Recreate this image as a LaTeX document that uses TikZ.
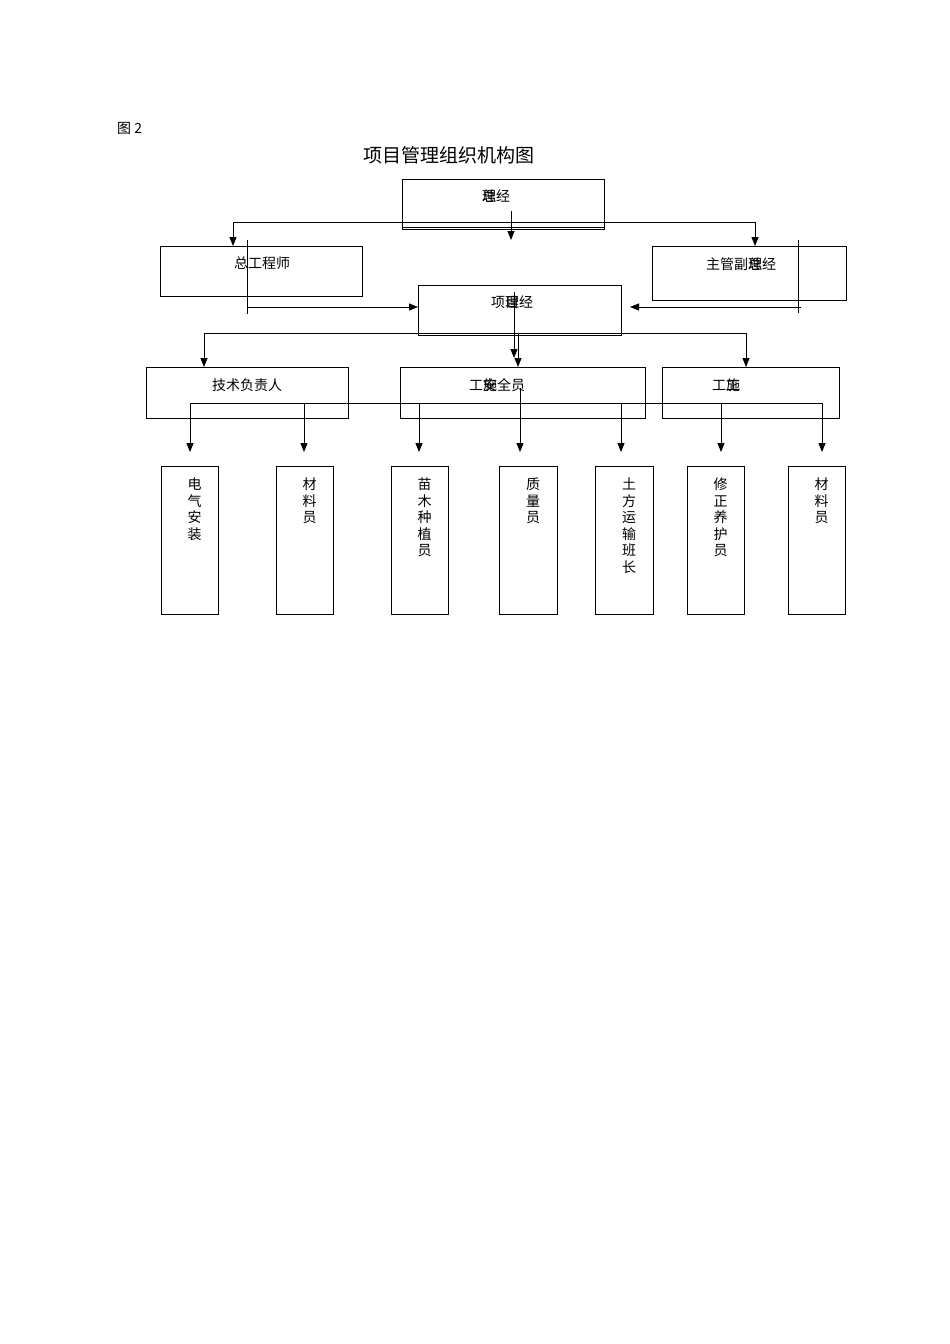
\documentclass[tikz,border=0pt]{standalone}
\usepackage{fontspec}
\setmainfont{Noto Sans CJK SC}
\usetikzlibrary{arrows.meta}
\newcommand{\ovl}[2]{\makebox[1em]{\makebox[0pt]{#1}\makebox[0pt]{#2}}}
\begin{document}
\begin{tikzpicture}[x=1pt,y=-1pt,
  bx/.style={draw,line width=0.8pt},
  ln/.style={line width=0.8pt},
  ar/.style={line width=0.8pt,-{Triangle[length=9pt,width=7pt]}},
  lbl/.style={font=\fontsize{14}{16}\selectfont,inner sep=0pt},
  vt/.style={font=\fontsize{14}{16.5}\selectfont,inner sep=0pt,anchor=north,align=center}]
\useasboundingbox (0,0) rectangle (950,1344);
\node[lbl,anchor=west] (fig) at (117,128) {图 2};
\node[font=\fontsize{19}{22}\selectfont,inner sep=0pt] (title) at (449,155) {项目管理组织机构图};
% boxes
\draw[bx] (402,179) rectangle (604,229) coordinate (zjlc);
\draw[ln] (402,227) -- (604,227);
\node[lbl] (zjl) at (496,196) {\ovl{总}{理}经};
\draw[bx] (160,246) rectangle (362,296);
\node[lbl] (zgcs) at (262,263) {总工程师};
\draw[bx] (652,246) rectangle (846,300);
\node[lbl] (fzjl) at (741,264) {主管副\ovl{总}{理}经};
\draw[bx] (418,285) rectangle (621,335);
\node[lbl] (xmjl) at (512,302) {项\ovl{目}{理}经};
\draw[bx] (146,367) rectangle (348,418);
\node[lbl] (jsfz) at (247,385) {技术负责人};
\draw[bx] (400,367) rectangle (645,418);
\node[lbl] (aqy) at (497,385) {工\ovl{施}{安}全员};
\draw[bx] (662,367) rectangle (839,418);
\node[lbl] (sgy) at (726,385) {工\ovl{施}{工}};
% bottom boxes
\foreach \xa/\xb/\t/\n in {161/218/电\\气\\安\\装/b1, 276/333/材\\料\\员/b2, 391/448/苗\\木\\种\\植\\员/b3, 499/557/质\\量\\员/b4, 595/653/土\\方\\运\\输\\班\\长/b5, 687/744/修\\正\\养\\护\\员/b6, 788/845/材\\料\\员/b7}{
  \draw[bx] (\xa,466) rectangle (\xb,614);
  \node[vt] (\n) at ({(\xa+\xb)/2+5},478) {\t};
}
% connectors level 1
\coordinate (t1) at (233,222); \coordinate (t2) at (755,222);
\draw[ln] (t1) -- (t2);
\draw[ar] (t1) -- (233,246);
\draw[ar] (t2) -- (755,246);
\draw[ar] (511,211) -- (511,240);
% into project manager
\draw[ln] (247,240) -- (247,314);
\draw[ar] (247,307) -- (418,307);
\draw[ln] (798,240) -- (798,313);
\draw[ar] (801,307) -- (630,307);
% level 2
\coordinate (m1) at (204,333); \coordinate (m2) at (746,333);
\draw[ln] (m1) -- (m2);
\draw[ar] (m1) -- (204,367);
\draw[ar] (m2) -- (746,367);
\draw[ar] (514,292) -- (514,358);
\draw[ar] (518,333) -- (518,367);
% level 3
\draw[ln] (190,403) -- (822,403);
\foreach \x in {190,304,419,520,621,721,822}{\draw[ar] (\x,403) -- (\x,452);}
\draw[ln] (520,388) -- (520,430);
\end{tikzpicture}
\end{document}
